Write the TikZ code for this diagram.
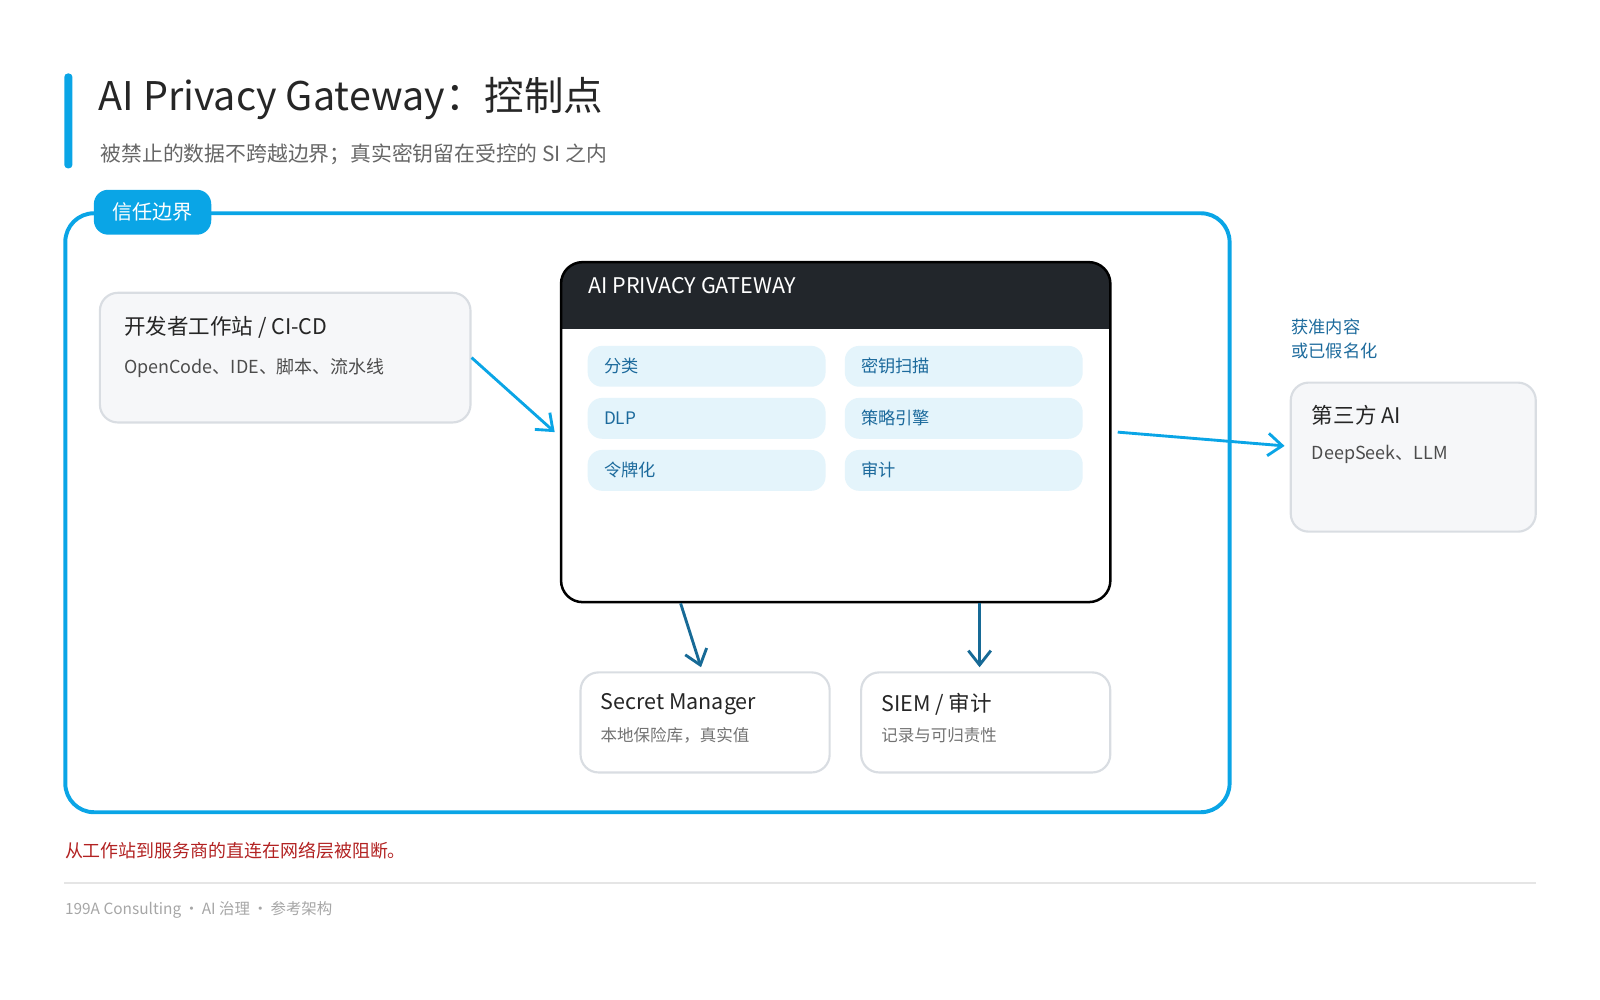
\documentclass[tikz,border=0pt]{standalone}
\usepackage{fontspec}
\setmainfont{Noto Sans CJK SC}
\usetikzlibrary{positioning, arrows.meta, calc}
\definecolor{gwblue}{HTML}{0AA5E6}
\definecolor{gwdeep}{HTML}{176A96}
\definecolor{gwink}{HTML}{1C6A9C}
\definecolor{gwdark}{HTML}{22262B}
\definecolor{gwchip}{HTML}{E4F4FB}
\definecolor{gwcard}{HTML}{F6F7F9}
\definecolor{gwline}{HTML}{D9DDE2}
\definecolor{gwred}{HTML}{B22222}
\begin{document}
\begin{tikzpicture}[x=0.01cm, y=-0.01cm,
    card/.style={draw=gwline, fill=gwcard, rounded corners=5pt, line width=0.6pt},
    whitecard/.style={draw=gwline, fill=white, rounded corners=5pt, line width=0.6pt},
    chip/.style={fill=gwchip, rounded corners=4pt, minimum width=2.33cm, minimum height=0.4cm},
    chiptext/.style={anchor=west, inner sep=0pt, xshift=0.16cm, font=\fontsize{4.8pt}{6pt}\selectfont, text=gwink},
    head/.style={anchor=west, font=\fontsize{6pt}{7pt}\selectfont, text=black!85, inner sep=0pt},
    sub/.style={anchor=west, font=\fontsize{5pt}{6pt}\selectfont, text=black!70, inner sep=0pt},
    arrow/.style={-{Straight Barb[length=1.4mm, width=2.2mm]}, gwblue, line width=0.8pt},
    downarrow/.style={-{Straight Barb[length=1.4mm, width=2.2mm]}, gwdeep, line width=0.8pt}
]
\useasboundingbox (0,0) rectangle (1568,980);

% Title
\fill[gwblue, rounded corners=1pt] (63,72) rectangle (71,165);
\node[anchor=west, inner sep=0pt, font=\fontsize{11pt}{13pt}\selectfont, text=black!85] (title) at (96,97) {AI Privacy Gateway：控制点};
\node[anchor=west, inner sep=0pt, font=\fontsize{5.8pt}{7pt}\selectfont, text=black!60] (subtitle) at (98,151) {被禁止的数据不跨越边界；真实密钥留在受控的 SI 之内};

% Trust boundary
\draw[gwblue, line width=1.1pt, rounded corners=8pt] (64,209) rectangle (1205,796);
\node[fill=gwblue, rounded corners=4pt, minimum width=1.15cm, minimum height=0.44cm, text=white, font=\fontsize{5.6pt}{7pt}\selectfont] (trust) at (149.5,208) {信任边界};

% Developer
\node[card, minimum width=3.63cm, minimum height=1.27cm] (dev) at (279.5,350.5) {};
\node[head] (devhead) at (121,321) {开发者工作站 / CI-CD};
\node[sub] (devsub) at (121,361) {OpenCode、IDE、脚本、流水线};

% Gateway
\fill[white, rounded corners=6pt] (550,257) rectangle (1088,590);
\fill[gwdark, rounded corners=6pt] (550,257) rectangle (1088,322);
\fill[gwdark] (550,300) rectangle (1088,322);
\node[draw=black, line width=0.7pt, rounded corners=6pt, minimum width=5.38cm, minimum height=3.33cm] (gw) at (819,423.5) {};
\node[anchor=west, inner sep=0pt, text=white, font=\fontsize{6pt}{7pt}\selectfont] (gwhead) at (576,280) {AI PRIVACY GATEWAY};

\node[chip] (c1) at (692.5,359) {};
\node[chiptext] at (c1.west) {分类};
\node[chip] (c2) at (944.5,359) {};
\node[chiptext] at (c2.west) {密钥扫描};
\node[chip] (c3) at (692.5,410) {};
\node[chiptext] at (c3.west) {DLP};
\node[chip] (c4) at (944.5,410) {};
\node[chiptext] at (c4.west) {策略引擎};
\node[chip] (c5) at (692.5,461) {};
\node[chiptext] at (c5.west) {令牌化};
\node[chip] (c6) at (944.5,461) {};
\node[chiptext] at (c6.west) {审计};

% Third party
\node[card, minimum width=2.4cm, minimum height=1.46cm] (ai) at (1385,448) {};
\node[head] (aihead) at (1285,407) {第三方 AI};
\node[sub] (aisub) at (1285,445) {DeepSeek、LLM};
\node[anchor=west, inner sep=0pt, align=left, text=gwink, font=\fontsize{4.8pt}{6.8pt}\selectfont] (pass) at (1265,332) {获准内容\\或已假名化};

% Lower cards
\node[whitecard, minimum width=2.44cm, minimum height=0.98cm] (sm) at (691,708) {};
\node[head] (smhead) at (588,690) {Secret Manager};
\node[sub, font=\fontsize{4.6pt}{6pt}\selectfont, text=black!55] (smsub) at (588,721) {本地保险库，真实值};
\node[whitecard, minimum width=2.44cm, minimum height=0.98cm] (siem) at (966,708) {};
\node[head] (siemhead) at (863,690) {SIEM / 审计};
\node[sub, font=\fontsize{4.6pt}{6pt}\selectfont, text=black!55] (siemsub) at (863,721) {记录与可归责性};

% Connectors
\draw[arrow] (dev.east) -- ($(gw.west)+(-5,0)$);
\draw[arrow] ($(gw.east)+(6,0)$) -- ($(ai.west)+(-5,-11)$);
\draw[downarrow] ($(gw.south)+(-152,0)$) -- ($(sm.north)+(-4,-4)$);
\draw[downarrow] ($(gw.south)+(141,0)$) -- ($(siem.north)+(-6,-4)$);

% Footer
\node[anchor=west, inner sep=0pt, text=gwred, font=\fontsize{5pt}{6pt}\selectfont] (note) at (63,834) {从工作站到服务商的直连在网络层被阻断。};
\draw[black!10, line width=0.5pt] (63,865) -- (1505,865);
\node[anchor=west, inner sep=0pt, text=black!35, font=\fontsize{4.3pt}{5pt}\selectfont] (foot) at (63,892) {199A Consulting\,·\,AI 治理\,·\,参考架构};
\end{tikzpicture}
\end{document}
